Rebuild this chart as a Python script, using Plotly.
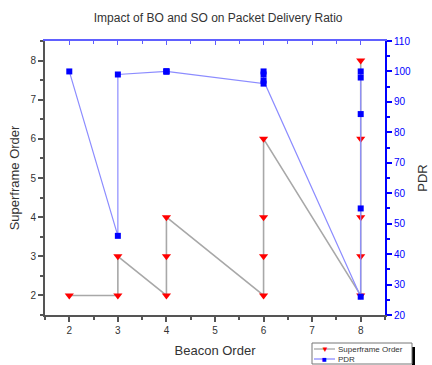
import plotly.graph_objects as go

# Beacon Order / Superframe Order combinations, in the order they were run
beacon_order = [2, 3, 3, 4, 4, 4, 6, 6, 6, 6, 8, 8, 8, 8, 8]
superframe_order = [2, 2, 3, 2, 3, 4, 2, 3, 4, 6, 2, 3, 4, 6, 8]
pdr = [100, 46, 99, 100, 100, 100, 96, 99, 100, 97, 26, 55, 86, 98, 100]

series_names = ["Superframe Order", "PDR"]

FONT = "Arial, Liberation Sans, sans-serif"
BLUE = "#0000ff"
RED = "#ff0000"
GREY = "#555555"
SO_LINE = "#a8a8a8"
PDR_LINE = "#8c8cff"

W, H = 432, 365
ML, MR, MT, MB = 45, 47, 41, 50
PW, PH = W - ML - MR, H - MT - MB


def px(x):
    return (x - ML) / PW


def py(y):
    return (H - MB - y) / PH


fig = go.Figure()

fig.add_trace(go.Scatter(
    x=beacon_order, y=superframe_order, name=series_names[0],
    mode="lines+markers",
    line=dict(color=SO_LINE, width=1.6),
    marker=dict(symbol="triangle-down", size=8, color=RED),
    yaxis="y",
))
fig.add_trace(go.Scatter(
    x=beacon_order, y=pdr, name=series_names[1],
    mode="lines+markers",
    line=dict(color=PDR_LINE, width=1.2),
    marker=dict(symbol="square", size=6, color=BLUE),
    yaxis="y2",
))

# empty trace that carries the blue top axis
fig.add_trace(go.Scatter(x=[2, 8], y=[None, None], xaxis="x2", showlegend=False,
                         hoverinfo="skip"))

fig.update_layout(
    width=W, height=H,
    margin=dict(l=ML, r=MR, t=MT, b=MB, autoexpand=False),
    paper_bgcolor="white", plot_bgcolor="white",
    font=dict(family=FONT, size=10, color="#333333"),
    showlegend=False,
    title=dict(text="Impact of BO and SO on Packet Delivery Ratio",
               x=0.505, xanchor="center", y=0.95, yanchor="middle",
               font=dict(size=12, color="#333333")),
    xaxis=dict(
        range=[1.5, 8.5], dtick=1, tick0=2,
        showgrid=False, zeroline=False,
        showline=True, linecolor=GREY, linewidth=2,
        ticks="outside", ticklen=5, tickcolor=GREY, tickwidth=1.5,
        minor=dict(dtick=0.5, ticks="outside", ticklen=3, tickcolor=GREY),
        title=dict(text="Beacon Order", font=dict(size=13, color="#333333"), standoff=11),
        tickfont=dict(size=10, color="#333333"),
    ),
    xaxis2=dict(
        overlaying="x", side="top", matches="x", range=[1.5, 8.5],
        dtick=1, tick0=2, showticklabels=False, showgrid=False, zeroline=False,
        showline=True, linecolor="#6060ff", linewidth=1.5,
        ticks="inside", ticklen=4, tickcolor="#6060ff",
        minor=dict(dtick=0.5, ticks="inside", ticklen=3, tickcolor="#6060ff"),
    ),
    yaxis=dict(
        range=[1.5, 8.5], dtick=1, tick0=2,
        showgrid=False, zeroline=False,
        showline=True, linecolor=GREY, linewidth=2,
        ticks="outside", ticklen=5, tickcolor=GREY, tickwidth=1.5,
        minor=dict(dtick=0.5, ticks="outside", ticklen=3, tickcolor=GREY),
        title=dict(text="Superframe Order", font=dict(size=13, color="#333333"), standoff=8),
        tickfont=dict(size=10, color="#333333"),
    ),
    yaxis2=dict(
        overlaying="y", side="right", anchor="x",
        range=[20, 110], dtick=10, tick0=20,
        showgrid=False, zeroline=False,
        showline=True, linecolor=BLUE, linewidth=2,
        ticks="outside", ticklen=5, tickcolor=BLUE, tickwidth=1.5,
        minor=dict(dtick=5, ticks="outside", ticklen=3, tickcolor=BLUE),
        title=dict(text="PDR", font=dict(size=13, color="#333333"), standoff=8),
        tickfont=dict(size=10, color=BLUE),
    ),
)

# compact legend box below the plot, with a dark shadow edge on the right
box_l, box_r, box_t, box_b = 312, 412, 343, 364
fig.add_shape(type="rect", xref="paper", yref="paper",
              x0=px(box_r), x1=px(box_r + 3), y0=py(box_b + 2), y1=py(box_t + 4),
              fillcolor="black", line=dict(width=0))
fig.add_shape(type="rect", xref="paper", yref="paper",
              x0=px(box_l), x1=px(box_r), y0=py(box_b), y1=py(box_t),
              fillcolor="white", line=dict(color="#777777", width=1))

legend_rows = [
    (series_names[0], SO_LINE, RED, "▼", 349),
    (series_names[1], PDR_LINE, BLUE, "■", 359),
]
for name, line_col, mark_col, glyph, row_y in legend_rows:
    fig.add_shape(type="line", xref="paper", yref="paper",
                  x0=px(box_l + 2), x1=px(box_l + 23), y0=py(row_y), y1=py(row_y),
                  line=dict(color=line_col, width=1.3))
    fig.add_annotation(xref="paper", yref="paper", x=px(box_l + 12.5), y=py(row_y),
                       text=glyph, showarrow=False, xanchor="center", yanchor="middle",
                       font=dict(size=8, color=mark_col))
    fig.add_annotation(xref="paper", yref="paper", x=px(box_l + 24), y=py(row_y),
                       text=name, showarrow=False, xanchor="left", yanchor="middle",
                       font=dict(size=8, color="#333333"))

fig.write_html("out.html")
